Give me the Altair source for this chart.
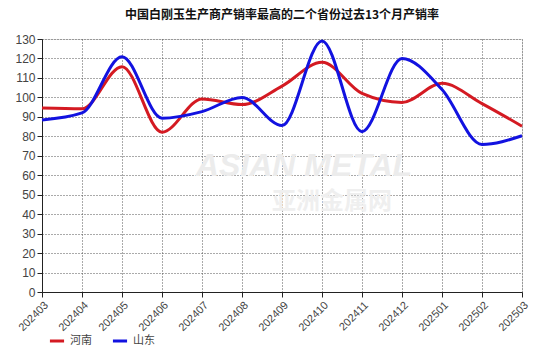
import altair as alt
import pandas as pd

months = ["202403","202404","202405","202406","202407","202408","202409",
          "202410","202411","202412","202501","202502","202503"]
henan = [94.5, 94.1, 115.8, 82.1, 99.2, 96.3, 105.8, 118.0, 102.0, 97.4, 107.2, 96.8, 85.2]
shandong = [88.4, 92.0, 120.9, 89.3, 92.7, 100.0, 85.5, 129.0, 82.4, 120.0, 104.0, 75.8, 80.3]
series_names = ["河南", "山东"]
colors = ["#d41a22", "#1212e0"]
y_ticks = list(range(0, 131, 10))
title = "中国白刚玉生产商产销率最高的二个省份过去13个月产销率"

rows = []
for m, a, b in zip(months, henan, shandong):
    rows.append({"month": m, "series": series_names[0], "value": a})
    rows.append({"month": m, "series": series_names[1], "value": b})
df = pd.DataFrame(rows)

W, H = 480, 253

x_enc = alt.X("month:O", scale=alt.Scale(type="point", padding=0),
              axis=alt.Axis(title=None, labelAngle=-45, labelFontSize=11,
                            labelColor="#444", labelFont="Liberation Sans",
                            grid=True, gridDash=[1, 2], gridColor="#555",
                            domainColor="#222", tickColor="#222", tickSize=5,
                            labelPadding=2))
y_enc = alt.Y("value:Q", scale=alt.Scale(domain=[0, 130], nice=False),
              axis=alt.Axis(title=None, values=y_ticks, labelFontSize=12,
                            labelColor="#444", labelFont="Liberation Sans",
                            grid=True, gridDash=[1, 2], gridColor="#555",
                            domainColor="#222", tickColor="#222", tickSize=5))

lines = alt.Chart(df).mark_line(strokeWidth=3, interpolate="monotone").encode(
    x=x_enc, y=y_enc,
    color=alt.Color("series:N", scale=alt.Scale(domain=series_names, range=colors),
                    sort=series_names,
                    legend=alt.Legend(title=None, orient="none", legendX=6, legendY=293,
                                      direction="horizontal", symbolType="stroke",
                                      symbolStrokeWidth=3, symbolSize=200,
                                      labelFontSize=11, labelColor="#444",
                                      labelFont="Noto Sans CJK SC", columnPadding=14)),
)

wm1 = alt.Chart(pd.DataFrame({"t": ["ASIAN METAL"]})).mark_text(
    fontSize=32, fontWeight="bold", fontStyle="italic", color="#ececec",
    font="Liberation Sans", align="center"
).encode(text="t:N", x=alt.value(262), y=alt.value(127))
wm2 = alt.Chart(pd.DataFrame({"t": ["亚洲金属网"]})).mark_text(
    fontSize=24, fontWeight="bold", color="#efefef", font="Noto Sans CJK SC", align="center"
).encode(text="t:N", x=alt.value(290), y=alt.value(163))

chart = alt.layer(wm1, wm2, lines).properties(
    width=W, height=H,
    title=alt.TitleParams(title, fontSize=12, fontWeight="bold", font="Noto Sans CJK SC",
                          color="#111", anchor="middle", offset=11),
    padding={"left": 42, "top": 39, "right": 28, "bottom": 64},
    autosize=alt.AutoSizeParams(type="none"),
).configure_view(stroke=None).configure(background="white")

chart.save("out.html", embed_options={"renderer": "svg", "actions": False})
